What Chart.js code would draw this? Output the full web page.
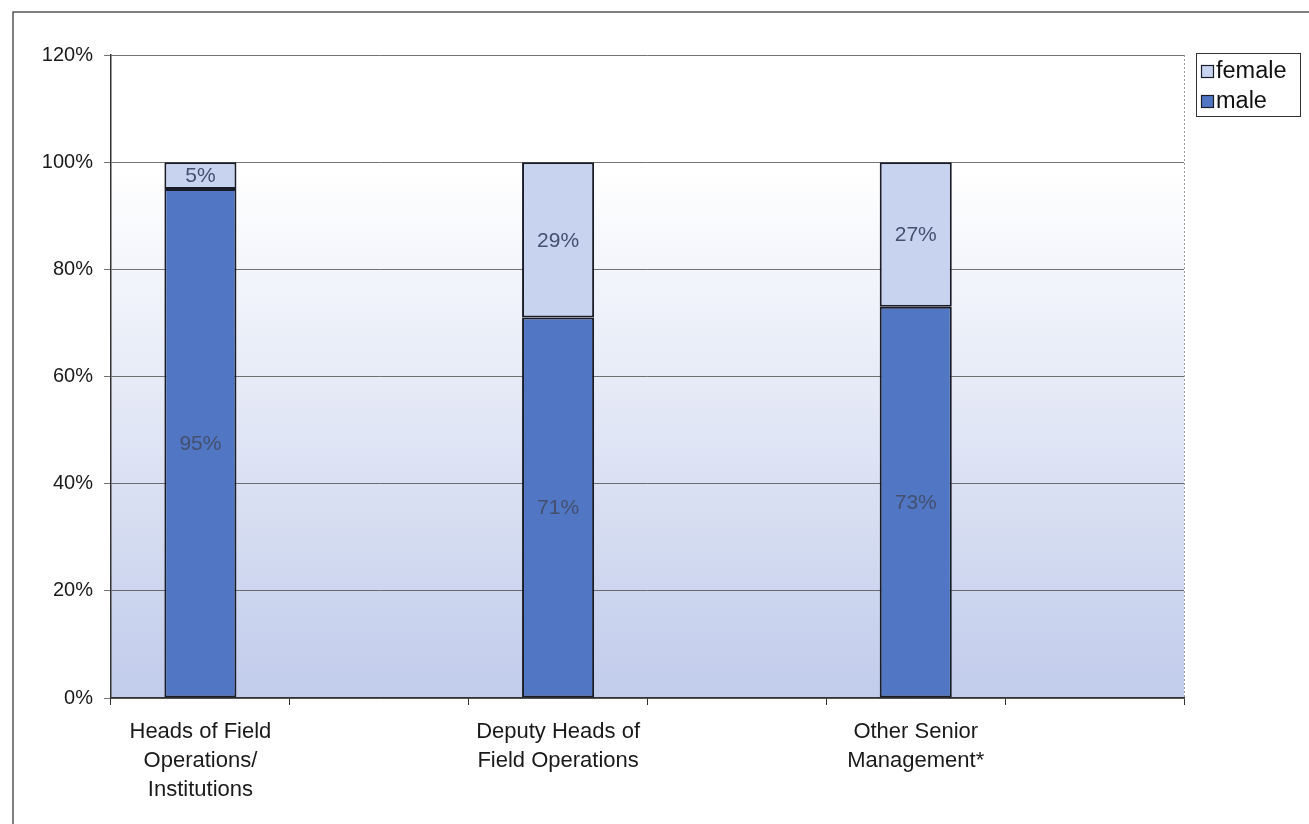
<!DOCTYPE html>
<html>
<head>
<meta charset="utf-8">
<title>Senior field positions by gender</title>
<script src="https://cdn.jsdelivr.net/npm/chart.js@4.4.0/dist/chart.umd.min.js"></script>
<style>
    html, body { margin: 0; padding: 0; background: #fff; }
    #wrap { position: relative; width: 1309px; height: 824px; }
</style>
</head>
<body>
<div id="wrap"><canvas id="myChart" width="1309" height="824"></canvas></div>
<script>
// categories (blank slots keep the wide spacing between the groups)
var categories = [
    ['Heads of Field', 'Operations/', 'Institutions'],
    '',
    ['Deputy Heads of', 'Field Operations'],
    '',
    ['Other Senior', 'Management*'],
    ''
];
var maleShare = [95, null, 71, null, 73, null];
var femaleShare = [5, null, 29, null, 27, null];
var yTicks = [0, 20, 40, 60, 80, 100, 120];

var FONT = '"Liberation Sans", Arial, sans-serif';
var MALE_COLOR = '#5076c4';
var FEMALE_COLOR = '#c7d3ef';
var EDGE = '#1a1d28';

// page frame + gradient plot background
var backdrop = {
    id: 'backdrop',
    beforeDraw: function (chart) {
        var ctx = chart.ctx, a = chart.chartArea;
        ctx.save();
        ctx.strokeStyle = '#555';
        ctx.lineWidth = 1.5;
        ctx.strokeRect(13, 12, 1400, 900);
        var g = ctx.createLinearGradient(0, a.top, 0, a.bottom);
        g.addColorStop(0, '#ffffff');
        g.addColorStop(0.18, '#ffffff');
        g.addColorStop(1, '#c1cceb');
        ctx.fillStyle = g;
        ctx.fillRect(a.left, a.top, a.right - a.left, a.bottom - a.top);
        ctx.restore();
    },
    afterDraw: function (chart) {
        var ctx = chart.ctx, a = chart.chartArea;
        // dotted right edge of the plot
        ctx.save();
        ctx.strokeStyle = '#9a9a9a';
        ctx.lineWidth = 1;
        ctx.setLineDash([2, 2]);
        ctx.beginPath();
        ctx.moveTo(a.right + 0.5, a.top);
        ctx.lineTo(a.right + 0.5, a.bottom);
        ctx.stroke();
        ctx.restore();
    }
};

// percentage labels in the middle of each segment
var segmentLabels = {
    id: 'segmentLabels',
    afterDatasetsDraw: function (chart) {
        var ctx = chart.ctx;
        ctx.save();
        ctx.font = '21px ' + FONT;
        ctx.fillStyle = '#44506e';
        ctx.textAlign = 'center';
        ctx.textBaseline = 'middle';
        chart.data.datasets.forEach(function (ds, i) {
            chart.getDatasetMeta(i).data.forEach(function (bar, j) {
                var v = ds.data[j];
                if (v == null) return;
                var p = bar.getProps(['x', 'y', 'base'], true);
                ctx.fillText(v + '%', p.x, (p.y + p.base) / 2 + 1);
            });
        });
        ctx.restore();
    }
};

// boxed legend at the top right, female listed first
var boxLegend = {
    id: 'boxLegend',
    afterDraw: function (chart) {
        var ctx = chart.ctx;
        var x = 1196, y = 53, w = 104, h = 63;
        ctx.save();
        ctx.fillStyle = '#fff';
        ctx.fillRect(x, y, w, h);
        ctx.strokeStyle = '#333';
        ctx.lineWidth = 1;
        ctx.strokeRect(x + 0.5, y + 0.5, w, h);
        var items = [chart.data.datasets[1], chart.data.datasets[0]];
        ctx.font = '23.5px ' + FONT;
        ctx.textBaseline = 'middle';
        items.forEach(function (ds, i) {
            var cy = y + 18 + i * 30;
            ctx.fillStyle = ds.backgroundColor;
            ctx.fillRect(x + 5, cy - 6, 13, 13);
            ctx.strokeStyle = EDGE;
            ctx.lineWidth = 1.2;
            ctx.strokeRect(x + 5.5, cy - 5.5, 12, 12);
            ctx.fillStyle = '#111';
            ctx.fillText(ds.label, x + 20, cy + 1);
        });
        ctx.restore();
    }
};

var ctx = document.getElementById('myChart').getContext('2d');
var myChart = new Chart(ctx, {
    type: 'bar',
    data: {
        labels: categories,
        datasets: [{
            label: 'male',
            data: maleShare,
            backgroundColor: MALE_COLOR,
            borderColor: EDGE,
            borderWidth: 2,
            borderSkipped: false
        }, {
            label: 'female',
            data: femaleShare,
            backgroundColor: FEMALE_COLOR,
            borderColor: EDGE,
            borderWidth: 2,
            borderSkipped: false
        }]
    },
    options: {
        responsive: false,
        animation: false,
        layout: { padding: { top: 55, right: 125, left: 0, bottom: 0 } },
        datasets: {
            bar: { categoryPercentage: 1, barPercentage: 0.403 }
        },
        plugins: {
            legend: { display: false },
            tooltip: { enabled: false }
        },
        scales: {
            x: {
                stacked: true,
                offset: true,
                afterFit: function (s) { s.height = 126; },
                grid: {
                    offset: true,
                    drawOnChartArea: false,
                    tickLength: 7,
                    color: '#333'
                },
                border: { color: '#333', width: 1.5 },
                ticks: {
                    autoSkip: false,
                    maxRotation: 0,
                    minRotation: 0,
                    padding: 13,
                    color: '#1a1a1a',
                    font: { family: FONT, size: 22, lineHeight: 1.3 }
                }
            },
            y: {
                stacked: true,
                min: 0,
                max: 120,
                afterFit: function (s) { s.width = 111; },
                afterBuildTicks: function (s) {
                    s.ticks = yTicks.map(function (v) { return { value: v }; });
                },
                grid: {
                    color: 'rgba(70,70,70,0.75)',
                    lineWidth: 1,
                    tickLength: 7
                },
                border: { color: '#333', width: 1.5 },
                ticks: {
                    padding: 11,
                    color: '#1a1a1a',
                    font: { family: FONT, size: 20 },
                    callback: function (v) { return v + '%'; }
                }
            }
        }
    },
    plugins: [backdrop, segmentLabels, boxLegend]
});
</script>
</body>
</html>
